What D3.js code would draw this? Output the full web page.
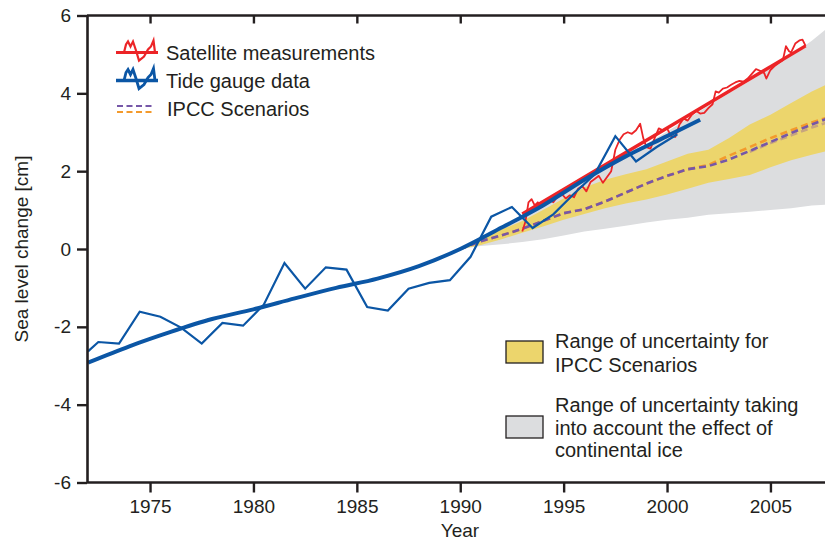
<!DOCTYPE html>
<html>
<head>
<meta charset="utf-8">
<script src="https://cdn.jsdelivr.net/npm/d3@7"></script>
<style>
  html, body { margin: 0; padding: 0; background: #ffffff; }
  svg { display: block; font-family: "Liberation Sans", Arial, Helvetica, sans-serif; }
</style>
</head>
<body>
<svg id="chart" width="825" height="542"></svg>
<script>
// ---------------- data ----------------
const xTicks = [1975, 1980, 1985, 1990, 1995, 2000, 2005];
const yTicks = [-6, -4, -2, 0, 2, 4, 6];

// tide gauge (annual)
const tideYears = [1972, 1972.5, 1973.5, 1974.5, 1975.5, 1976.5, 1977.5, 1978.5, 1979.5, 1980.5,
  1981.5, 1982.5, 1983.5, 1984.5, 1985.5, 1986.5, 1987.5, 1988.5, 1989.5, 1990.5,
  1991.5, 1992.5, 1993.5, 1994.5, 1995.5, 1996.5, 1997.5, 1998.5, 1999.5, 2000.5];
const tideValues = [-2.63, -2.39, -2.43, -1.61, -1.74, -2.02, -2.43, -1.90, -1.97, -1.43,
  -0.36, -1.02, -0.47, -0.53, -1.49, -1.58, -1.02, -0.87, -0.80, -0.20,
  0.83, 1.08, 0.54, 0.89, 1.42, 1.92, 2.90, 2.25, 2.62, 2.95];

// tide gauge smoothed trend
const tideTrendYears = [1972, 1974, 1976, 1978, 1980, 1982, 1984, 1986, 1988, 1990, 1992, 1994, 1996, 1998, 2000, 2001.6];
const tideTrendValues = [-2.92, -2.50, -2.13, -1.80, -1.55, -1.27, -1.00, -0.76, -0.44, 0.00, 0.55, 1.12, 1.78, 2.38, 2.90, 3.32];

// satellite measurements
const satYears = [1993.0, 1993.15, 1993.3, 1993.45, 1993.6, 1993.75, 1993.9, 1994.1, 1994.3, 1994.5,
  1994.7, 1994.9, 1995.1, 1995.3, 1995.5, 1995.7, 1995.9, 1996.1, 1996.3, 1996.5,
  1996.7, 1996.9, 1997.1, 1997.3, 1997.5, 1997.7, 1997.9, 1998.1, 1998.3, 1998.5,
  1998.7, 1998.85, 1999.0, 1999.2, 1999.4, 1999.6, 1999.8, 2000.0, 2000.2, 2000.4,
  2000.6, 2000.8, 2001.0, 2001.2, 2001.4, 2001.6, 2001.8, 2002.0, 2002.2, 2002.35,
  2002.5, 2002.7, 2002.9, 2003.1, 2003.3, 2003.5, 2003.7, 2003.9, 2004.1, 2004.3,
  2004.5, 2004.7, 2004.8, 2005.0, 2005.2, 2005.4, 2005.6, 2005.75, 2005.9, 2006.0,
  2006.2, 2006.4, 2006.55, 2006.7];
const satValues = [0.45, 0.70, 1.20, 1.28, 1.12, 1.20, 1.10, 1.22, 1.28, 1.20,
  1.35, 1.42, 1.30, 1.38, 1.33, 1.55, 1.62, 1.48, 1.72, 1.80,
  1.88, 1.70, 1.85, 2.00, 2.55, 2.80, 2.95, 3.00, 2.96, 3.05,
  3.22, 2.85, 2.62, 2.58, 2.85, 3.10, 3.05, 3.10, 2.90, 2.88,
  3.20, 3.35, 3.30, 3.45, 3.55, 3.48, 3.50, 3.62, 3.72, 4.05,
  4.02, 4.12, 4.15, 4.22, 4.28, 4.32, 4.30, 4.38, 4.50, 4.62,
  4.58, 4.52, 4.38, 4.60, 4.70, 4.78, 4.85, 5.21, 5.08, 5.05,
  5.28, 5.36, 5.38, 5.22];

// satellite linear trend
const satTrendYears = [1993.0, 2006.7];
const satTrendValues = [0.90, 5.22];

// IPCC scenarios and uncertainty ranges
const ipccYears = [1990, 1991, 1992, 1993, 1994, 1995, 1996, 1997, 1998, 1999, 2000, 2001, 2002, 2003, 2004, 2005, 2006, 2007, 2008];
const ipccPurple = [0, 0.20, 0.35, 0.52, 0.72, 0.92, 1.02, 1.22, 1.45, 1.68, 1.88, 2.05, 2.13, 2.30, 2.52, 2.75, 2.98, 3.20, 3.40];
const ipccOrange = [0, 0.20, 0.35, 0.52, 0.72, 0.92, 1.02, 1.22, 1.45, 1.68, 1.88, 2.05, 2.16, 2.40, 2.62, 2.85, 3.05, 3.25, 3.42];
const ipccTanYears = [2004, 2005, 2006, 2007, 2008];
const ipccTan = [2.50, 2.72, 2.92, 3.12, 3.30];
const ipccLower = [0, 0.10, 0.25, 0.42, 0.58, 0.75, 0.90, 1.05, 1.17, 1.27, 1.40, 1.55, 1.70, 1.80, 1.90, 2.10, 2.28, 2.42, 2.55];
const ipccUpper = [0, 0.30, 0.50, 0.72, 1.00, 1.30, 1.58, 1.78, 1.92, 2.05, 2.25, 2.45, 2.55, 2.85, 3.20, 3.45, 3.75, 4.05, 4.30];
const iceLower = [0, 0.08, 0.12, 0.18, 0.25, 0.35, 0.45, 0.52, 0.60, 0.68, 0.75, 0.80, 0.88, 0.92, 0.96, 1.00, 1.05, 1.12, 1.15];
const iceUpper = [0, 0.30, 0.50, 0.78, 1.10, 1.42, 1.74, 2.05, 2.38, 2.70, 3.02, 3.35, 3.68, 4.00, 4.32, 4.65, 4.98, 5.35, 5.78];

const legendTop = ["Satellite measurements", "Tide gauge data", "IPCC Scenarios"];
const legendYellow = ["Range of uncertainty for", "IPCC Scenarios"];
const legendGrey = ["Range of uncertainty taking", "into account the effect of", "continental ice"];

// ---------------- style ----------------
const C = {
  ink: "#231f20", red: "#ec2427", blue: "#0b56a5", yellow: "#ecd56c", grey: "#dcdddf",
  purple: "#7657a8", orange: "#f39a2c", tan: "#c7a57e"
};
const FS = 19;     // axis text
const LFS = 20;    // legend text

const svg = d3.select("#chart");
const W = 825, H = 542;
const pLeft = 87, pTop = 15.5, pBottom = 482.5;

const x = d3.scaleLinear().domain([1972, 2008]).range([88, 88 + 36 * 20.68]);
const y = d3.scaleLinear().domain([-6, 6]).range([pBottom, pTop]);

svg.append("rect").attr("width", W).attr("height", H).attr("fill", "#fff");

svg.append("defs").append("clipPath").attr("id", "plotclip")
  .append("rect").attr("x", pLeft).attr("y", pTop).attr("width", W - pLeft).attr("height", pBottom - pTop);

const plot = svg.append("g").attr("clip-path", "url(#plotclip)");

const zip = (xs, ys) => xs.map((v, i) => [v, ys[i]]);
const line = d3.line().x(d => x(d[0])).y(d => y(d[1]));
const smooth = d3.line().x(d => x(d[0])).y(d => y(d[1])).curve(d3.curveMonotoneX);
const area = d3.area().x(d => x(d[0])).y0(d => y(d[1])).y1(d => y(d[2]));

// bands
plot.append("path").datum(ipccYears.map((yr, i) => [yr, iceLower[i], iceUpper[i]]))
  .attr("d", area).attr("fill", C.grey);
plot.append("path").datum(ipccYears.map((yr, i) => [yr, ipccLower[i], ipccUpper[i]]))
  .attr("d", area).attr("fill", C.yellow);

// IPCC dashed lines
plot.append("path").datum(zip(ipccYears, ipccOrange)).attr("d", line)
  .attr("fill", "none").attr("stroke", C.orange).attr("stroke-width", 2.6).attr("stroke-dasharray", "7,4");
plot.append("path").datum(zip(ipccTanYears, ipccTan)).attr("d", line)
  .attr("fill", "none").attr("stroke", C.tan).attr("stroke-width", 2.6).attr("stroke-dasharray", "7,4");
plot.append("path").datum(zip(ipccYears, ipccPurple)).attr("d", line)
  .attr("fill", "none").attr("stroke", C.purple).attr("stroke-width", 2.6).attr("stroke-dasharray", "7,4");

// satellite
plot.append("path").datum(zip(satYears, satValues)).attr("d", line)
  .attr("fill", "none").attr("stroke", C.red).attr("stroke-width", 1.8).attr("stroke-linejoin", "round");
plot.append("path").datum(zip(satTrendYears, satTrendValues)).attr("d", line)
  .attr("fill", "none").attr("stroke", C.red).attr("stroke-width", 3.4);

// tide gauge
plot.append("path").datum(zip(tideYears, tideValues)).attr("d", line)
  .attr("fill", "none").attr("stroke", C.blue).attr("stroke-width", 2.2);
plot.append("path").datum(zip(tideTrendYears, tideTrendValues)).attr("d", smooth)
  .attr("fill", "none").attr("stroke", C.blue).attr("stroke-width", 4);

// ---------------- axes ----------------
function styleAxis(g) {
  g.select(".domain").attr("stroke", C.ink).attr("stroke-width", 2.6);
  g.selectAll(".tick line").attr("stroke", C.ink).attr("stroke-width", 2.4);
  g.selectAll(".tick text").attr("fill", C.ink).style("font-size", FS + "px")
    .style("font-family", '"Liberation Sans", Arial, Helvetica, sans-serif');
}
const gx = svg.append("g").attr("transform", `translate(0,${pBottom})`)
  .call(d3.axisBottom(x).tickValues(xTicks).tickFormat(d3.format("d")).tickSize(10).tickSizeOuter(0).tickPadding(7));
styleAxis(gx);
gx.select(".domain").attr("d", `M${pLeft},0H${W}`);

const gt = svg.append("g").attr("transform", `translate(0,${pTop})`)
  .call(d3.axisTop(x).tickValues(xTicks).tickFormat("").tickSize(-8).tickSizeOuter(0));
styleAxis(gt);
gt.select(".domain").attr("d", `M${pLeft},0H${W}`);

const gy = svg.append("g").attr("transform", `translate(${pLeft},0)`)
  .call(d3.axisLeft(y).tickValues(yTicks).tickFormat(d3.format("d")).tickSize(10).tickSizeOuter(0).tickPadding(6));
styleAxis(gy);
gy.selectAll(".tick text").text(d => d < 0 ? "-" + Math.abs(d) : d);

svg.append("text").attr("x", 460).attr("y", 537).attr("text-anchor", "middle")
  .attr("fill", C.ink).style("font-size", FS + "px").text("Year");
svg.append("text").attr("transform", `translate(28,${y(0)}) rotate(-90)`).attr("text-anchor", "middle")
  .attr("fill", C.ink).style("font-size", FS + "px").text("Sea level change [cm]");

// ---------------- legends ----------------
const glyph = [[0,0],[7,0],[9,-8],[11,-11],[13.5,-6],[16,-11],[19,-2],[22,8],[27,4],[31,-3],[34,-6],[36.5,-12],[38,0],[41,0]];
const gl = d3.line();
const leg = svg.append("g").attr("transform", "translate(117,0)");
const legRows = [52.5, 80.5, 108.5];
[[C.red, 2.2], [C.blue, 2.8]].forEach((s, i) => {
  const g = leg.append("g").attr("transform", `translate(0,${legRows[i]})`);
  g.append("line").attr("x1", -1).attr("x2", 41).attr("y1", 0).attr("y2", 0).attr("stroke", s[0]).attr("stroke-width", s[1] + 0.6);
  g.append("path").attr("d", gl(glyph)).attr("fill", "none").attr("stroke", s[0]).attr("stroke-width", s[1]);
});
leg.append("line").attr("x1", 0).attr("x2", 37).attr("y1", legRows[2] - 2.5).attr("y2", legRows[2] - 2.5)
  .attr("stroke", C.purple).attr("stroke-width", 2.2).attr("stroke-dasharray", "6,3.5");
leg.append("line").attr("x1", 0).attr("x2", 37).attr("y1", legRows[2] + 3.5).attr("y2", legRows[2] + 3.5)
  .attr("stroke", C.orange).attr("stroke-width", 2.2).attr("stroke-dasharray", "6,3.5");
legendTop.forEach((t, i) => {
  leg.append("text").attr("x", i === 2 ? 50 : 49).attr("y", legRows[i]).attr("dy", "0.36em")
    .attr("fill", C.ink).style("font-size", LFS + "px").text(t);
});

function boxLegend(yBox, fill, lines, yLines) {
  svg.append("rect").attr("x", 506).attr("y", yBox).attr("width", 37).attr("height", 22)
    .attr("fill", fill).attr("stroke", C.ink).attr("stroke-width", 1.3);
  lines.forEach((t, i) => {
    svg.append("text").attr("x", 555).attr("y", yLines[i]).attr("dy", "0.36em")
      .attr("fill", C.ink).style("font-size", LFS + "px").text(t);
  });
}
boxLegend(341, C.yellow, legendYellow, [341, 365]);
boxLegend(416, C.grey, legendGrey, [405, 427.5, 450]);
</script>
</body>
</html>
